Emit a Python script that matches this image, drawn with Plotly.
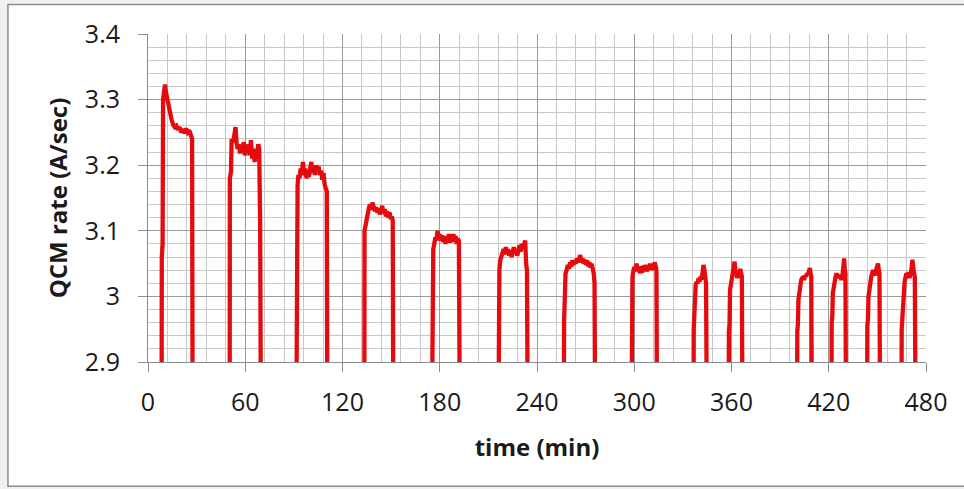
import plotly.graph_objects as go

# ---- data (time in min, QCM rate in A/sec) ----
BASE = 2.85  # shutter closed: rate below the visible axis range

pulse_01_t = [8.4, 8.5, 9.0, 9.3, 10.0, 10.5, 11.0, 11.5, 12.5, 13.5, 14.5, 15.5, 16.5, 17.5, 18.5, 19.5, 20.5, 21.5, 22.5, 23.5, 24.5, 25.5, 26.3, 26.8, 27.2, 27.5]
pulse_01_v = [BASE, 3.06, 3.08, 3.30, 3.315, 3.323, 3.312, 3.305, 3.294, 3.28, 3.27, 3.262, 3.258, 3.26, 3.254, 3.258, 3.25, 3.255, 3.249, 3.256, 3.25, 3.253, 3.245, 3.24, 3.24, BASE]

pulse_02_t = [50.4, 50.5, 51.2, 51.6, 52.5, 53.2, 54.0, 54.6, 55.3, 56.0, 56.8, 57.5, 58.3, 59.0, 59.8, 60.5, 61.3, 62.0, 62.8, 63.5, 64.3, 65.0, 65.8, 66.5, 67.3, 68.0, 68.6, 69.2, 69.6]
pulse_02_v = [BASE, 3.18, 3.19, 3.24, 3.235, 3.245, 3.258, 3.235, 3.225, 3.232, 3.218, 3.23, 3.222, 3.235, 3.215, 3.228, 3.22, 3.232, 3.215, 3.238, 3.21, 3.225, 3.205, 3.222, 3.215, 3.232, 3.225, 3.11, BASE]

pulse_03_t = [91.6, 91.7, 92.3, 92.8, 93.5, 94.2, 95.0, 95.6, 96.3, 97.0, 97.8, 98.5, 99.3, 100.0, 100.8, 101.5, 102.3, 103.0, 103.8, 104.5, 105.3, 106.0, 106.8, 107.5, 108.3, 109.0, 109.8, 110.3, 110.6]
pulse_03_v = [BASE, 3.16, 3.17, 3.185, 3.18, 3.195, 3.19, 3.205, 3.185, 3.195, 3.18, 3.19, 3.182, 3.195, 3.205, 3.188, 3.198, 3.185, 3.2, 3.19, 3.198, 3.185, 3.192, 3.178, 3.188, 3.17, 3.165, 3.16, BASE]

pulse_04_t = [133.5, 133.6, 134.2, 134.8, 135.5, 136.3, 137.0, 137.8, 138.5, 139.3, 140.0, 140.8, 141.5, 142.3, 143.0, 143.8, 144.5, 145.3, 146.0, 146.8, 147.5, 148.3, 149.0, 149.8, 150.5, 151.0, 151.3]
pulse_04_v = [BASE, 3.10, 3.11, 3.12, 3.128, 3.135, 3.14, 3.132, 3.143, 3.138, 3.13, 3.136, 3.128, 3.134, 3.125, 3.132, 3.138, 3.126, 3.133, 3.122, 3.13, 3.12, 3.128, 3.118, 3.122, 3.115, BASE]

pulse_05_t = [175.3, 175.4, 176.0, 176.6, 177.3, 178.0, 178.6, 179.3, 180.0, 180.7, 181.4, 182.1, 182.8, 183.5, 184.2, 184.9, 185.6, 186.3, 187.0, 187.7, 188.4, 189.1, 189.8, 190.5, 191.2, 191.8, 192.3]
pulse_05_v = [BASE, 3.06, 3.072, 3.08, 3.09, 3.085, 3.1, 3.09, 3.095, 3.085, 3.093, 3.083, 3.09, 3.08, 3.092, 3.085, 3.095, 3.082, 3.09, 3.083, 3.095, 3.085, 3.092, 3.08, 3.088, 3.085, BASE]

pulse_06_t = [216.3, 216.4, 216.8, 217.3, 218.0, 218.7, 219.4, 220.1, 220.8, 221.5, 222.2, 222.9, 223.6, 224.3, 225.0, 225.7, 226.4, 227.1, 227.8, 228.5, 229.2, 229.9, 230.6, 231.3, 232.0, 232.7, 233.3, 233.8, 234.2]
pulse_06_v = [BASE, 2.995, 3.04, 3.055, 3.06, 3.065, 3.072, 3.064, 3.075, 3.066, 3.072, 3.062, 3.07, 3.06, 3.068, 3.075, 3.065, 3.072, 3.062, 3.07, 3.078, 3.068, 3.08, 3.072, 3.082, 3.085, 3.05, 3.04, BASE]

pulse_07_t = [256.6, 256.7, 257.1, 257.6, 258.3, 259.0, 259.7, 260.4, 261.1, 261.8, 262.5, 263.2, 263.9, 264.6, 265.3, 266.0, 266.7, 267.4, 268.1, 268.8, 269.5, 270.2, 270.9, 271.6, 272.3, 273.0, 273.7, 274.4, 275.0, 275.5, 275.8]
pulse_07_v = [BASE, 2.96, 3.02, 3.035, 3.04, 3.048, 3.042, 3.052, 3.045, 3.055, 3.048, 3.055, 3.05, 3.058, 3.052, 3.06, 3.063, 3.052, 3.058, 3.05, 3.056, 3.048, 3.055, 3.046, 3.052, 3.044, 3.05, 3.042, 3.035, 3.02, BASE]

pulse_08_t = [298.4, 298.5, 298.9, 299.4, 300.0, 300.7, 301.4, 302.1, 302.8, 303.5, 304.2, 304.9, 305.6, 306.3, 307.0, 307.7, 308.4, 309.1, 309.8, 310.5, 311.2, 311.9, 312.6, 313.3, 313.7, 314.0]
pulse_08_v = [BASE, 3.0, 3.03, 3.038, 3.045, 3.04, 3.05, 3.038, 3.046, 3.035, 3.044, 3.036, 3.047, 3.04, 3.048, 3.038, 3.046, 3.04, 3.05, 3.042, 3.048, 3.04, 3.052, 3.045, 3.04, BASE]

pulse_09_t = [336.6, 336.7, 337.1, 337.4, 337.9, 338.5, 339.1, 339.7, 340.3, 340.9, 341.5, 342.1, 342.7, 343.3, 343.8, 344.3, 344.7]
pulse_09_v = [BASE, 2.95, 2.98, 3.01, 3.018, 3.022, 3.02, 3.028, 3.022, 3.03, 3.026, 3.035, 3.048, 3.04, 3.03, 3.02, BASE]

pulse_10_t = [358.3, 358.4, 358.8, 359.1, 359.6, 360.2, 360.8, 361.4, 361.9, 362.4, 363.0, 363.6, 364.2, 364.8, 365.4, 365.9, 366.4, 366.7]
pulse_10_v = [BASE, 2.945, 2.96, 3.01, 3.02, 3.03, 3.035, 3.045, 3.053, 3.04, 3.035, 3.028, 3.035, 3.03, 3.042, 3.035, 3.03, BASE]

pulse_11_t = [400.5, 400.6, 401.0, 401.3, 401.8, 402.4, 403.0, 403.6, 404.2, 404.8, 405.4, 406.0, 406.6, 407.2, 407.8, 408.3, 408.8, 409.2, 409.5]
pulse_11_v = [BASE, 2.946, 2.96, 2.995, 3.005, 3.018, 3.025, 3.028, 3.03, 3.025, 3.032, 3.03, 3.035, 3.033, 3.04, 3.043, 3.035, 3.03, BASE]

pulse_12_t = [421.7, 421.8, 422.2, 422.5, 423.0, 423.6, 424.2, 424.8, 425.4, 426.0, 426.6, 427.2, 427.8, 428.4, 429.0, 429.5, 429.9, 430.3, 430.6]
pulse_12_v = [BASE, 2.96, 2.97, 3.005, 3.015, 3.025, 3.03, 3.035, 3.03, 3.033, 3.028, 3.032, 3.025, 3.03, 3.045, 3.058, 3.04, 3.035, BASE]

pulse_13_t = [443.7, 443.8, 444.2, 444.5, 445.0, 445.6, 446.2, 446.8, 447.4, 448.0, 448.6, 449.2, 449.8, 450.4, 450.9, 451.3, 451.6]
pulse_13_v = [BASE, 2.955, 2.965, 3.0, 3.012, 3.022, 3.03, 3.035, 3.04, 3.036, 3.032, 3.04, 3.045, 3.05, 3.04, 3.035, BASE]

pulse_14_t = [464.9, 465.0, 465.4, 465.7, 466.2, 466.8, 467.4, 468.0, 468.6, 469.2, 469.8, 470.4, 471.0, 471.6, 472.1, 472.6, 473.1, 473.5]
pulse_14_v = [BASE, 2.95, 2.965, 3.0, 3.012, 3.022, 3.03, 3.035, 3.03, 3.037, 3.028, 3.035, 3.04, 3.056, 3.04, 3.035, 3.03, BASE]

x_tick_vals = [0, 60, 120, 180, 240, 300, 360, 420, 480]
x_tick_labels = ["0", "60", "120", "180", "240", "300", "360", "420", "480"]
y_tick_vals = [2.9, 3.0, 3.1, 3.2, 3.3, 3.4]
y_tick_labels = ["2.9", "3", "3.1", "3.2", "3.3", "3.4"]

pulses_t = [pulse_01_t, pulse_02_t, pulse_03_t, pulse_04_t, pulse_05_t, pulse_06_t, pulse_07_t,
            pulse_08_t, pulse_09_t, pulse_10_t, pulse_11_t, pulse_12_t, pulse_13_t, pulse_14_t]
pulses_v = [pulse_01_v, pulse_02_v, pulse_03_v, pulse_04_v, pulse_05_v, pulse_06_v, pulse_07_v,
            pulse_08_v, pulse_09_v, pulse_10_v, pulse_11_v, pulse_12_v, pulse_13_v, pulse_14_v]

time_min = [0.0]
rate = [BASE]
for t_list, v_list in zip(pulses_t, pulses_v):
    time_min += t_list
    rate += v_list
time_min.append(480.0)
rate.append(BASE)

FONT = "Open Sans"

fig = go.Figure()
fig.add_trace(go.Scatter(
    x=time_min, y=rate, mode="lines",
    line=dict(color="rgb(228,10,14)", width=4.3),
    showlegend=False, hoverinfo="x+y",
))

fig.update_layout(
    width=964, height=489,
    margin=dict(l=148, r=38, t=34, b=127, autoexpand=False),
    paper_bgcolor="#f0f0f0",
    plot_bgcolor="white",
    font=dict(family=FONT, color="#1a1a1a"),
    shapes=[dict(type="rect", xref="paper", yref="paper",
                 x0=-0.18, x1=1.07, y0=-0.379, y1=1.090,
                 fillcolor="white", line=dict(color="#8c8c8c", width=1.5),
                 layer="below")],
)

fig.update_xaxes(
    range=[0, 480], tickmode="array", tickvals=x_tick_vals, ticktext=x_tick_labels,
    tickfont=dict(size=25, family=FONT, color="#1a1a1a"),
    ticks="outside", ticklen=9, tickcolor="#8c8c8c", tickwidth=1,
    ticklabelstandoff=9,
    showline=True, linecolor="#8c8c8c", linewidth=1,
    showgrid=True, gridcolor="#9a9a9a", gridwidth=1,
    minor=dict(dtick=12, showgrid=True, gridcolor="#c8c8c8", gridwidth=1, ticks=""),
    zeroline=False, automargin=False,
    title=dict(text="<b>time (min)</b>", font=dict(size=24, family=FONT, color="#1a1a1a"), standoff=22),
)
fig.update_yaxes(
    range=[2.9, 3.4], tickmode="array", tickvals=y_tick_vals, ticktext=y_tick_labels,
    tickfont=dict(size=25, family=FONT, color="#1a1a1a"),
    ticks="outside", ticklen=9, tickcolor="#8c8c8c", tickwidth=1,
    ticklabelstandoff=13,
    showline=True, linecolor="#8c8c8c", linewidth=1,
    showgrid=True, gridcolor="#9a9a9a", gridwidth=1,
    minor=dict(dtick=0.02, tick0=2.9, showgrid=True, gridcolor="#c8c8c8", gridwidth=1, ticks=""),
    zeroline=False, automargin=False,
    title=dict(text="<b>QCM rate (A/sec)</b>", font=dict(size=24, family=FONT, color="#1a1a1a"), standoff=10),
)

fig.write_html(
    "out.html",
    config={"displayModeBar": False},
    post_script="document.body.style.margin='0px';document.body.style.overflow='hidden';",
)
